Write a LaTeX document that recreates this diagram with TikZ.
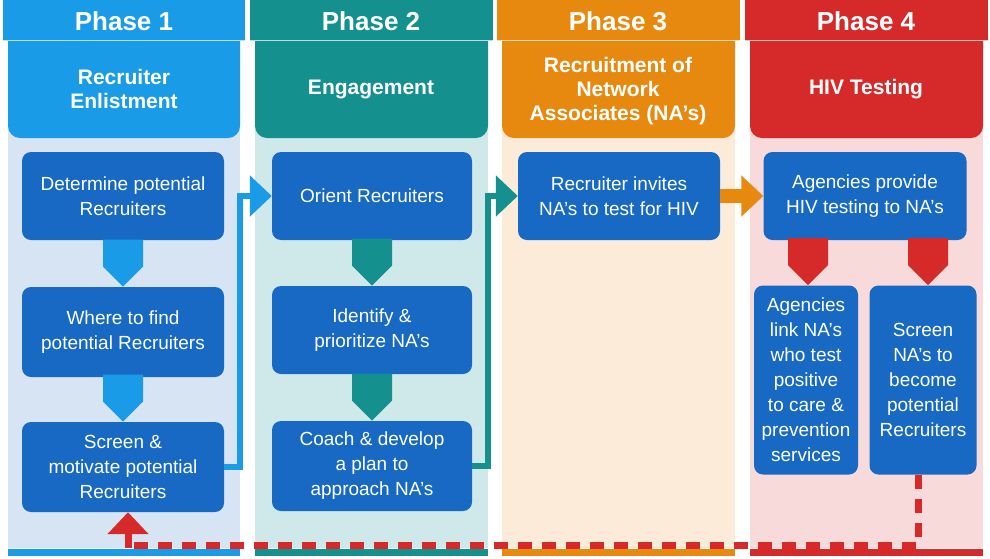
\documentclass[tikz,border=0pt]{standalone}
\usepackage{fontspec}
\setmainfont{Liberation Sans}
\usetikzlibrary{arrows.meta,shapes.arrows}
\definecolor{cA}{HTML}{1A9BE8}\definecolor{bgA}{HTML}{D6E4F4}
\definecolor{cB}{HTML}{14918F}\definecolor{bgB}{HTML}{CFE8EA}
\definecolor{cC}{HTML}{E8890F}\definecolor{bgC}{HTML}{FBEBD8}
\definecolor{cD}{HTML}{D62A2A}\definecolor{bgD}{HTML}{F8DADA}
\definecolor{bx}{HTML}{1769C4}
\begin{document}
\begin{tikzpicture}[x=1pt,y=-1pt,
 box/.style={fill=bx,rounded corners=9pt,text=white,align=center,font=\fontsize{19}{25}\selectfont,inner sep=0pt},
 hdr/.style={text=white,font=\bfseries\fontsize{26}{28}\selectfont},
 sub/.style={text=white,align=center,font=\bfseries\fontsize{21}{24}\selectfont},
 down/.style={single arrow,draw=none,fill=#1,shape border rotate=270,minimum height=47pt,minimum width=40pt,single arrow head extend=0pt,single arrow tip angle=90,inner sep=7pt,anchor=tip}]
\useasboundingbox (0,0) rectangle (990,558);
\fill[white] (0,0) rectangle (990,558);
% columns
\foreach \l/\r/\c/\b [count=\i] in {3/245/cA/bgA,250/493/cB/bgB,497/740/cC/bgC,745/988/cD/bgD}{
 \fill[\b] (\l+5,40) rectangle (\r-5,548);
 \fill[\c] (\l+5,549) rectangle (\r-5,556);
 \fill[\c,rounded corners=12pt] (\l+5,20) rectangle (\r-5,138);
 \fill[\c] (\l,0) rectangle (\r,40);
 \draw[white!70!\c,line width=1pt] (\l,40.5) -- (\r,40.5);
}
\node[hdr] (h1) at (124,21) {Phase 1};
\node[hdr] (h2) at (371,21) {Phase 2};
\node[hdr] (h3) at (618,21) {Phase 3};
\node[hdr] (h4) at (866,21) {Phase 4};
\node[sub] (s1) at (124,89) {Recruiter\\Enlistment};
\node[sub] (s2) at (371,89) {Engagement};
\node[sub] (s3) at (618,91) {Recruitment of\\Network\\Associates (NA’s)};
\node[sub] (s4) at (866,89) {HIV Testing};
% boxes
\node[box,minimum width=202pt,minimum height=88pt] (b1) at (123,196) {Determine potential\\Recruiters};
\node[box,minimum width=202pt,minimum height=90pt] (b2) at (123,332) {Where to find\\potential Recruiters};
\node[box,minimum width=202pt,minimum height=90pt] (b3) at (123,467) {Screen \&\\motivate potential\\Recruiters};
\node[box,minimum width=200pt,minimum height=88pt] (c1) at (372,196) {Orient Recruiters};
\node[box,minimum width=200pt,minimum height=88pt] (c2) at (372,330) {Identify \&\\prioritize NA’s};
\node[box,minimum width=200pt,minimum height=90pt] (c3) at (372,466) {Coach \& develop\\a plan to\\approach NA’s};
\node[box,minimum width=202pt,minimum height=88pt] (d1) at (619,196) {Recruiter invites\\NA’s to test for HIV};
\node[box,minimum width=203pt,minimum height=88pt] (e1) at (865,196) {Agencies provide\\HIV testing to NA’s};
\node[box,minimum width=104pt,minimum height=189pt] (e2) at (806,380) {Agencies\\link NA’s\\who test\\positive\\to care \&\\prevention\\services};
\node[box,minimum width=107pt,minimum height=189pt] (e3) at (923,380) {Screen\\NA’s to\\become\\potential\\Recruiters};
% down arrows
\node[down=cA] (a1) at (b2.north) {};
\node[down=cA] (a2) at (b3.north) {};
\node[down=cB] (a3) at (c2.north) {};
\node[down=cB] (a4) at (c3.north) {};
\node[down=cD] (a5) at ([xshift=2pt]e2.north) {};
\node[down=cD] (a6) at ([xshift=5pt]e3.north) {};
% elbow connectors
\coordinate (k1) at (240,467);
\draw[cA,line width=6pt,-{Triangle[length=22pt,width=40pt]}] (b3.east) -- (k1) -- (240,196) -- (c1.west);
\draw[cB,line width=6pt,-{Triangle[length=22pt,width=40pt]}] (c3.east) -- (488,466) -- (488,196) -- (d1.west);
\draw[cC,line width=14pt,-{Triangle[length=22pt,width=40pt]}] (d1.east) -- (e1.west);
% dashed feedback
\draw[cD,line width=7pt,dash pattern=on 14pt off 10pt] ([xshift=-5pt]e3.south) -- (918,545) -- (128,545);
\draw[cD,line width=7pt,-{Triangle[length=22pt,width=40pt]}] (128,548) -- (b3.south -| 128,0);
\end{tikzpicture}
\end{document}
